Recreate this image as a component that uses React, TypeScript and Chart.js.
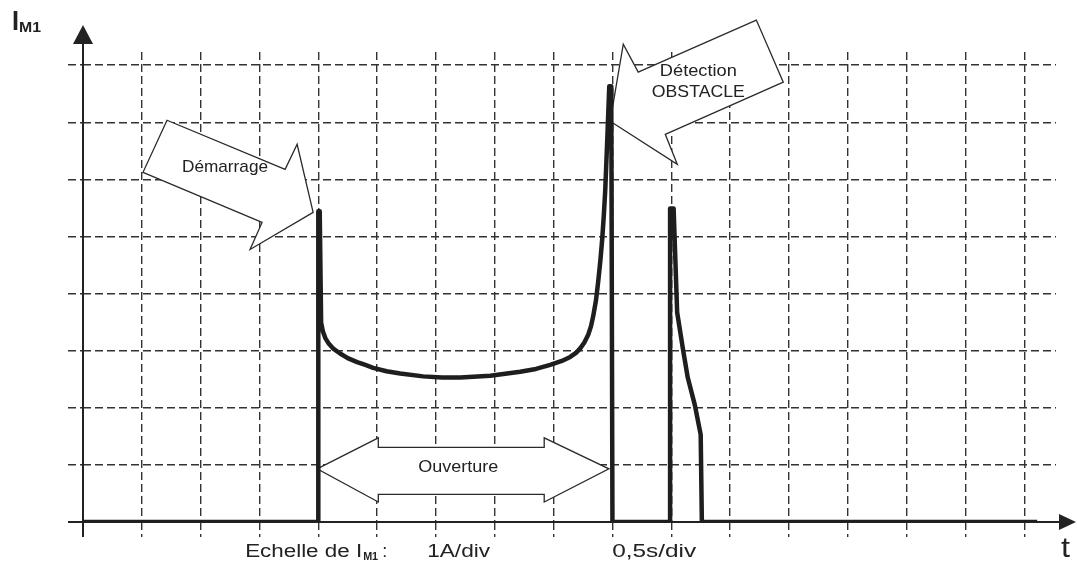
import React, { useEffect, useRef } from "react";
import { Chart, registerables } from "chart.js";

Chart.register(...registerables);

// Motor current I_M1 (A) versus time t (s); 0,5 s/div, 1 A/div
const timeS = [
  0, 2.0, 2.0, 2.012, 2.024, 2.04, 2.06, 2.09, 2.13, 2.185, 2.25, 2.33, 2.4,
  2.466, 2.58, 2.696, 2.891, 3.05, 3.206, 3.461, 3.716, 3.85, 3.971, 4.07,
  4.141, 4.19, 4.226, 4.26, 4.294, 4.318, 4.337, 4.36, 4.379, 4.397, 4.413,
  4.427, 4.439, 4.456, 4.473, 4.49, 4.5, 4.99, 4.99, 5.02, 5.05, 5.1, 5.14,
  5.2, 5.25, 5.26, 8.11,
];
const currentA = [
  0, 0, 5.44, 5.44, 3.49, 3.33, 3.22, 3.12, 3.03, 2.95, 2.87, 2.8, 2.75,
  2.7, 2.64, 2.6, 2.55, 2.53, 2.53, 2.56, 2.63, 2.68, 2.75, 2.82,
  2.89, 2.96, 3.04, 3.14, 3.28, 3.43, 3.61, 3.88, 4.21, 4.57, 4.95,
  5.38, 5.82, 6.7, 7.63, 7.63, 0, 0, 5.49, 5.49, 3.67, 3.02, 2.53,
  2.05, 1.53, 0, 0,
];

const gridTimeTicks = [0, 0.5, 1, 1.5, 2, 2.5, 3, 3.5, 4, 4.5, 5, 5.5, 6, 6.5, 7, 7.5, 8];
const gridCurrentTicks = [0, 1, 2, 3, 4, 5, 6, 7, 8];
const timeMax = 8.27;
const currentMax = 8.23;

// Callout outlines (t in s, I in A)
const demarrageT = [0.714, 1.718, 1.82, 1.956, 1.42, 1.522, 0.51];
const demarrageI = [7.035, 6.175, 6.614, 5.421, 4.772, 5.246, 6.123];
const detectionT = [4.481, 4.592, 4.719, 5.723, 5.952, 4.949, 5.051];
const detectionI = [7.018, 8.368, 7.877, 8.789, 7.702, 6.789, 6.263];
const ouvertureT = [1.99, 2.51, 2.51, 3.92, 3.92, 4.47, 3.92, 3.92, 2.51, 2.51];
const ouvertureI = [0.93, 1.474, 1.307, 1.307, 1.474, 0.93, 0.35, 0.482, 0.482, 0.35];

const labelDemarrage = "Démarrage";
const labelDetection = ["Détection", "OBSTACLE"];
const labelOuverture = "Ouverture";
const labelScaleI = "Echelle de I";
const labelScaleISub = "M1";
const labelScaleIValue = "1A/div";
const labelScaleT = "0,5s/div";
const labelYAxis = "I";
const labelYAxisSub = "M1";
const labelXAxis = "t";

const FONT = '"Liberation Sans", Arial, sans-serif';
const INK = "#222222";
const GRID = "#333333";

function fitText(
  ctx: CanvasRenderingContext2D,
  text: string,
  x: number,
  y: number,
  font: string,
  width: number,
  align: CanvasTextAlign,
  baseline: CanvasTextBaseline
) {
  ctx.save();
  ctx.font = font;
  const w = ctx.measureText(text).width || 1;
  ctx.translate(x, y);
  ctx.scale(width / w, 1);
  ctx.textAlign = align;
  ctx.textBaseline = baseline;
  ctx.fillStyle = INK;
  ctx.fillText(text, 0, 0);
  ctx.restore();
}

function polygon(ctx: CanvasRenderingContext2D, xs: number[], ys: number[]) {
  ctx.save();
  ctx.beginPath();
  xs.forEach((x, i) => (i === 0 ? ctx.moveTo(x, ys[i]) : ctx.lineTo(x, ys[i])));
  ctx.closePath();
  ctx.fillStyle = "#ffffff";
  ctx.fill();
  ctx.strokeStyle = "#2a2a2a";
  ctx.lineWidth = 1.3;
  ctx.lineJoin = "miter";
  ctx.stroke();
  ctx.restore();
}

const decorPlugin = {
  id: "decor",
  beforeDraw(chart: any) {
    const ctx = chart.ctx as CanvasRenderingContext2D;
    ctx.save();
    ctx.fillStyle = "#ffffff";
    ctx.fillRect(0, 0, chart.width, chart.height);
    ctx.restore();
  },
  beforeDatasetsDraw(chart: any) {
    const ctx = chart.ctx as CanvasRenderingContext2D;
    const xs = chart.scales.x;
    const ys = chart.scales.y;
    const px = (t: number) => xs.getPixelForValue(t);
    const py = (v: number) => ys.getPixelForValue(v);

    // axes with arrows
    const x0 = px(0);
    const y0 = py(0);
    ctx.save();
    ctx.strokeStyle = INK;
    ctx.fillStyle = INK;
    ctx.lineWidth = 2;
    ctx.beginPath();
    ctx.moveTo(x0, 40);
    ctx.lineTo(x0, y0 + 15);
    ctx.moveTo(x0 - 15, y0);
    ctx.lineTo(1062, y0);
    ctx.stroke();
    ctx.beginPath();
    ctx.moveTo(x0, 25);
    ctx.lineTo(x0 - 10, 44);
    ctx.lineTo(x0 + 10, 44);
    ctx.closePath();
    ctx.fill();
    ctx.beginPath();
    ctx.moveTo(1076, y0);
    ctx.lineTo(1059, y0 - 8);
    ctx.lineTo(1059, y0 + 8);
    ctx.closePath();
    ctx.fill();
    ctx.restore();

    // callouts
    polygon(ctx, demarrageT.map(px), demarrageI.map(py));
    fitText(ctx, labelDemarrage, px(1.207), py(6.21), `17px ${FONT}`, 86, "center", "middle");

    polygon(ctx, detectionT.map(px), detectionI.map(py));
    fitText(ctx, labelDetection[0], px(5.23), py(7.895), `17px ${FONT}`, 77, "center", "middle");
    fitText(ctx, labelDetection[1], px(5.23), py(7.526), `17px ${FONT}`, 93, "center", "middle");

    polygon(ctx, ouvertureT.map(px), ouvertureI.map(py));
    fitText(ctx, labelOuverture, px(3.19), py(0.95), `17px ${FONT}`, 80, "center", "middle");

    // scale notes under the time axis
    const base = y0 + 35;
    fitText(ctx, labelScaleI, px(1.378), base, `18px ${FONT}`, 117, "left", "alphabetic");
    fitText(ctx, labelScaleISub, px(1.378) + 118, base + 3, `bold 11px ${FONT}`, 15, "left", "alphabetic");
    fitText(ctx, ":", px(1.378) + 137, base, `18px ${FONT}`, 5, "left", "alphabetic");
    fitText(ctx, labelScaleIValue, px(2.925), base, `18px ${FONT}`, 63, "left", "alphabetic");
    fitText(ctx, labelScaleT, px(4.498), base, `18px ${FONT}`, 84, "left", "alphabetic");

    // axis names
    fitText(ctx, labelYAxis, 12, 30, `bold 28px ${FONT}`, 7, "left", "alphabetic");
    fitText(ctx, labelYAxisSub, 19, 32, `bold 15px ${FONT}`, 22, "left", "alphabetic");
    fitText(ctx, labelXAxis, 1061, 557, `28px ${FONT}`, 9, "left", "alphabetic");
  },
};

export default function App() {
  const canvasRef = useRef<HTMLCanvasElement | null>(null);

  useEffect(() => {
    if (!canvasRef.current) return;
    const gridStyle = {
      color: GRID,
      lineWidth: 1.4,
      drawTicks: true,
      tickLength: 15,
      tickColor: GRID,
      tickWidth: 1.4,
      tickBorderDash: [8, 4],
    };
    const chart = new Chart(canvasRef.current, {
      type: "line",
      data: {
        datasets: [
          {
            label: "I_M1",
            data: timeS.map((t, i) => ({ x: t, y: currentA[i] })),
            borderColor: "#1e1e1e",
            borderWidth: 4.5,
            borderJoinStyle: "round",
            pointRadius: 0,
            tension: 0,
            fill: false,
          },
        ],
      },
      options: {
        responsive: false,
        animation: false,
        events: [],
        layout: { padding: { left: 0, top: 52, right: 21, bottom: 0 } },
        plugins: { legend: { display: false }, tooltip: { enabled: false }, title: { display: false } },
        scales: {
          x: {
            type: "linear",
            min: 0,
            max: timeMax,
            afterBuildTicks: (s: any) => {
              s.ticks = gridTimeTicks.map((v) => ({ value: v }));
            },
            afterFit: (s: any) => {
              s.height = 46;
            },
            ticks: { display: false },
            grid: gridStyle,
            border: { display: false, dash: [8, 4] },
          },
          y: {
            type: "linear",
            min: 0,
            max: currentMax,
            afterBuildTicks: (s: any) => {
              s.ticks = gridCurrentTicks.map((v) => ({ value: v }));
            },
            afterFit: (s: any) => {
              s.width = 83;
            },
            ticks: { display: false },
            grid: gridStyle,
            border: { display: false, dash: [8, 4] },
          },
        },
      },
      plugins: [decorPlugin],
    } as any);
    return () => chart.destroy();
  }, []);

  return (
    <div style={{ position: "fixed", left: 0, top: 0, width: 1077, height: 568, background: "#fff" }}>
      <canvas ref={canvasRef} width={1077} height={568} style={{ display: "block" }} />
    </div>
  );
}
